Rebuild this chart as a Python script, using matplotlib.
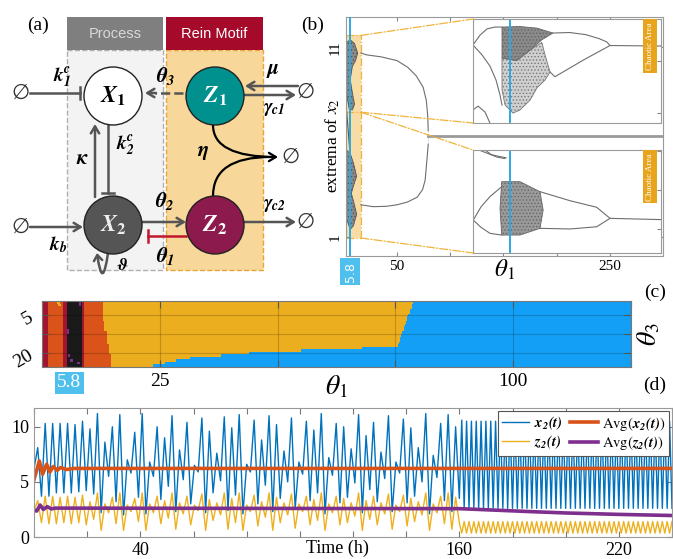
import matplotlib
matplotlib.use('Agg')
import matplotlib.pyplot as plt
import numpy as np
from matplotlib.colors import ListedColormap
from matplotlib.patches import Rectangle, Circle, FancyArrowPatch, Polygon, ConnectionPatch
import matplotlib.transforms as mtransforms

plt.rcParams['font.family'] = ['Liberation Serif', 'DejaVu Serif']
plt.rcParams['mathtext.fontset'] = 'stix'
plt.rcParams['hatch.linewidth'] = 0.6

# ---------------- data ----------------
# (b) bifurcation diagram, extrema of x2 vs theta1
loop_up_theta = [16, 21.7, 35, 50, 60, 68, 74.5, 77.5, 78.8, 79.3]
loop_up_x2 = [10.7, 10.6, 10.5, 10.3, 9.95, 9.5, 8.9, 8.2, 7.4, 6.6]
loop_lo_theta = [16, 27.4, 40, 50, 60, 68.9, 74, 76.4, 78.3, 79.3]
loop_lo_x2 = [2.7, 2.6, 2.62, 2.7, 2.85, 3.1, 3.5, 4.0, 5.2, 5.9]
steady_theta = [79.3, 300]
steady_x2 = [6.32, 6.32]
chaos_main_up_theta = [2.3, 6, 10, 13, 11, 8, 6, 8, 10, 8, 5, 2.3]
chaos_main_up_x2 = [11.25, 11.4, 11.2, 10.7, 10.3, 10.0, 9.3, 8.6, 8.0, 7.7, 7.75, 8.6]
chaos_main_lo_theta = [2.3, 6, 9, 12, 9, 7, 9, 12, 9, 6, 2.3]
chaos_main_lo_x2 = [5.6, 5.4, 4.9, 4.2, 3.7, 3.3, 2.9, 2.2, 1.6, 1.4, 2.0]
strand_theta = [2.5, 3.5, 4.5, 5.5]
strand_b = [7.7, 7.0, 6.3, 5.6]
box_theta = [2, 16]
box_x2 = [0.95, 7.58, 11.63]
theta_mark = 5.8

# upper inset
iu_dark_theta = [5.19, 6.55, 7.83, 9.04, 8.2, 7.3, 6.3, 5.19]
iu_dark_x2 = [11.29, 11.31, 11.25, 11.06, 10.8, 10.4, 10.0, 10.1]
iu_chaos_theta = [5.19, 6.3, 7.3, 8.2, 8.44, 8.82, 8.44, 7.83, 7.31, 6.55, 6.02, 5.42, 5.19]
iu_chaos_x2 = [10.1, 10.0, 10.4, 10.7, 10.22, 9.56, 9.25, 8.95, 8.48, 8.10, 7.98, 8.29, 8.87]
iu_br1_theta = [9.04, 10.3, 11.5, 12.5, 13.1, 13.35, 17.2]
iu_br1_x2 = [11.06, 11.08, 11.0, 10.85, 10.72, 10.58, 10.56]
iu_br2_theta = [8.82, 9.19, 11.33, 13.35]
iu_br2_x2 = [9.56, 9.38, 10.02, 10.58]
iu_left1_theta = [3.0, 3.53, 4.06, 4.66, 5.04, 5.19]
iu_left1_x2 = [10.6, 10.98, 11.22, 11.29, 11.29, 11.29]
iu_left2_theta = [3.0, 3.68, 4.28, 4.74, 5.04, 5.19]
iu_left2_x2 = [10.6, 10.22, 9.79, 9.25, 8.68, 8.29]
iu_left3_theta = [3.0, 3.38, 3.91, 4.28]
iu_left3_x2 = [8.1, 8.25, 8.02, 7.6]

# lower inset
il_chaos_theta = [5.17, 6.55, 8.06, 8.3, 8.06, 6.55, 5.17, 5.04, 5.17]
il_chaos_x2 = [5.52, 5.52, 4.88, 3.7, 2.53, 2.1, 2.1, 3.81, 5.52]
il_br1_theta = [8.06, 10.33, 12.34, 13.35, 17.2]
il_br1_x2 = [4.88, 4.30, 3.88, 3.17, 3.09]
il_br2_theta = [8.06, 10.33, 12.34, 13.35]
il_br2_x2 = [2.53, 2.49, 2.63, 3.17]
il_left1_theta = [3.02, 3.6, 4.28, 5.17]
il_left1_x2 = [3.06, 3.9, 4.56, 5.2]
il_left2_theta = [3.02, 3.6, 4.28, 5.17]
il_left2_x2 = [3.06, 2.6, 2.21, 2.1]
il_top1_theta = [3.6, 4.2, 4.8, 5.4]
il_top1_x2 = [7.5, 7.3, 7.1, 7.0]
il_top2_theta = [3.9, 4.4, 4.9, 5.5]
il_top2_x2 = [7.55, 7.25, 7.15, 7.05]

# (c) dynamical regimes over (theta1, theta3)
theta1_max = 125
theta3_rows = list(range(26))
yellow_start = [13.0, 13.0, 13.0, 13.0, 13.0, 13.0, 13.0, 13.0, 13.3, 13.3, 13.3, 13.3,
                13.8, 13.8, 13.8, 13.8, 13.8, 14.3, 14.3, 14.3, 14.3, 14.8, 14.8, 14.8, 14.8, 14.8]
blue_start = [78.8, 78.6, 78.4, 78.1, 77.9, 77.7, 77.6, 77.4, 77.2, 77.0, 76.8, 76.7, 76.5,
              76.3, 76.1, 76.0, 75.8, 75.6, 68.0, 55.0, 44.0, 38.0, 31.5, 28.5, 26.0, 23.5]
strip_edges = [0.3, 1.3, 4.5, 5.2, 8.4, 9.1]
strip_codes = [2, 3, 2, 3, 4, 3]
purple_theta1 = [5.4, 5.4, 5.6, 7.8, 7.6, 6.0, 7.9]
purple_theta3 = [11, 12, 21, 0, 24, 23, 1]
ybit_theta1 = [3.4, 3.6]
ybit_theta3 = [0, 1]
regime_colors = ['#139ff5', '#ebae1f', '#d9531a', '#a3152e', '#1a1a1a', '#7e2f8e']

# (d) time series (alternating extrema)
x2_peaks = [8.1, 10.3, 10.3, 10.3, 10.3, 10.2, 10.5, 9.8, 11.2, 8.6, 10.0, 11.1, 7.0, 9.5,
            11.2, 6.8, 10.0, 9.0, 11.0, 7.9, 10.4, 6.5, 10.8, 9.6, 7.6, 10.9, 9.9, 11.1, 6.6,
            10.6, 8.8, 11.0, 10.2, 7.8, 10.8, 6.8, 10.5, 9.7, 11.2, 7.2, 10.3, 10.0, 8.0, 11.1,
            9.2, 10.4, 7.7, 11.0, 6.8, 10.7, 9.9, 8.1, 11.2, 7.4, 10.3, 11.1, 10.0]
x2_troughs = [3.7, 3.7, 4.0, 4.0, 4.0, 4.1, 4.2, 3.9, 2.2, 5.5, 3.2, 2.0, 5.8, 3.6, 2.1, 5.5,
              3.4, 4.6, 2.3, 5.2, 3.0, 5.9, 2.2, 4.0, 5.1, 2.4, 3.8, 2.1, 5.9, 3.0, 4.7, 2.3,
              3.5, 5.0, 2.6, 5.7, 3.3, 4.0, 2.1, 5.6, 3.1, 3.6, 4.9, 2.2, 4.3, 3.2, 5.3, 2.3,
              5.8, 3.1, 3.7, 5.0, 2.1, 5.4, 3.3, 2.3, 3.5]
z2_peaks = [3.3, 3.7, 3.7, 3.6, 3.7, 3.6, 3.8, 3.2, 4.0, 3.0, 3.6, 4.0, 2.9, 3.5, 4.0, 3.0,
            3.7, 3.3, 4.0, 3.1, 3.7, 2.9, 3.9, 3.4, 3.1, 4.0, 3.5, 4.0, 2.9, 3.8, 3.2, 4.0,
            3.6, 3.1, 3.9, 3.0, 3.7, 3.4, 4.0, 3.0, 3.7, 3.5, 3.1, 4.0, 3.3, 3.7, 3.1, 3.9,
            2.9, 3.8, 3.5, 3.2, 4.0, 3.0, 3.7, 4.0, 3.6]
z2_troughs = [1.3, 1.2, 1.2, 1.3, 1.2, 1.3, 1.1, 1.6, 0.6, 2.2, 1.2, 0.6, 2.3, 1.4, 0.6, 2.2,
              1.2, 1.7, 0.7, 2.1, 1.1, 2.4, 0.6, 1.5, 2.0, 0.7, 1.3, 0.6, 2.3, 1.0, 1.8, 0.6,
              1.3, 2.0, 0.8, 2.3, 1.1, 1.5, 0.6, 2.2, 1.1, 1.3, 1.9, 0.6, 1.6, 1.1, 2.1, 0.7,
              2.3, 1.0, 1.4, 2.0, 0.6, 2.2, 1.2, 0.7, 1.3]
x2_late_peaks = [10.6, 10.5, 10.5, 10.5, 10.5, 10.5, 10.5, 10.5, 10.5, 10.5, 10.5, 10.5,
                 10.5, 10.5, 10.5, 10.5, 10.5, 10.5, 10.5, 10.5, 10.5, 10.5, 10.5, 10.5,
                 10.5, 10.5, 10.5, 10.5, 10.5, 10.5, 10.5, 10.5, 10.5, 10.5, 10.5, 10.5,
                 10.5, 10.5, 10.5, 10.5, 10.5, 10.5, 10.5, 10.5]
x2_late_troughs = [2.6, 2.6, 2.6, 2.6, 2.6, 2.6, 2.6, 2.6, 2.6, 2.6, 2.6, 2.6, 2.6, 2.6,
                   2.6, 2.6, 2.6, 2.6, 2.6, 2.6, 2.6, 2.6, 2.6, 2.6, 2.6, 2.6, 2.6, 2.6,
                   2.6, 2.6, 2.6, 2.6, 2.6, 2.6, 2.6, 2.6, 2.6, 2.6, 2.6, 2.6, 2.6, 2.6,
                   2.6, 2.6]
z2_late_peaks = [1.4, 1.4, 1.4, 1.4, 1.4, 1.4, 1.4, 1.4, 1.4, 1.4, 1.4, 1.4, 1.4, 1.4,
                 1.4, 1.4, 1.4, 1.4, 1.4, 1.4, 1.4, 1.4, 1.4, 1.4, 1.4, 1.4, 1.4, 1.4,
                 1.4, 1.4, 1.4, 1.4, 1.4, 1.4, 1.4, 1.4, 1.4, 1.4, 1.4, 1.4, 1.4, 1.4,
                 1.4, 1.4]
z2_late_troughs = [0.35, 0.35, 0.35, 0.35, 0.35, 0.35, 0.35, 0.35, 0.35, 0.35, 0.35, 0.35,
                   0.35, 0.35, 0.35, 0.35, 0.35, 0.35, 0.35, 0.35, 0.35, 0.35, 0.35, 0.35,
                   0.35, 0.35, 0.35, 0.35, 0.35, 0.35, 0.35, 0.35, 0.35, 0.35, 0.35, 0.35,
                   0.35, 0.35, 0.35, 0.35, 0.35, 0.35, 0.35, 0.35]
avg_x2_t = [0, 2.0, 3.25, 4.75, 6.0, 7.25, 8.75, 10.0, 12.25, 15, 240]
avg_x2 = [5.2, 6.9, 5.7, 6.6, 5.9, 6.4, 6.05, 6.3, 6.12, 6.22, 6.22]
avg_z2_t = [0, 1.0, 2.3, 3.5, 5.0, 6.5, 8.0, 160, 175, 187, 200, 220, 240]
avg_z2 = [2.45, 2.35, 2.9, 2.5, 2.75, 2.55, 2.62, 2.57, 2.42, 2.3, 2.18, 2.05, 1.95]


def interleave(first, peaks, troughs):
    seq = [first]
    for p, q in zip(peaks, troughs):
        seq += [p, q]
    return seq


# ---------------- figure ----------------
W, H = 673, 559
fig = plt.figure(figsize=(W / 100, H / 100), dpi=100)


def px_box(x0, y0, x1, y1):
    return [x0 / W, 1 - y1 / H, (x1 - x0) / W, (y1 - y0) / H]


# ---- (a) schematic, drawn in pixel coordinates ----
axa = fig.add_axes([0, 0, 1, 1])
axa.set_xlim(0, W)
axa.set_ylim(H, 0)
axa.axis('off')

grey = '#555555'
axa.add_patch(Rectangle((67, 50), 96, 220, fc='#f3f3f3', ec='#b0b0b0', ls='--', lw=1))
axa.add_patch(Rectangle((166, 50), 97, 220, fc='#f7d89a', ec='#eaa53a', ls='--', lw=1))
axa.add_patch(Rectangle((67, 17), 96, 33, fc='#7f7f7f', ec='none'))
axa.add_patch(Rectangle((166, 17), 97, 33, fc='#a50a2a', ec='none'))
axa.text(115, 34, 'Process', ha='center', va='center', color='#d9d9d9', fontsize=10.5,
         family='Liberation Sans')
axa.text(214, 34, 'Rein Motif', ha='center', va='center', color='white', fontsize=10.5,
         family='Liberation Sans')

nodes = {'X1': ((113, 96), 'white', 'black'), 'X2': ((113, 225), '#555555', '#eeeeee'),
         'Z1': ((215, 96), '#00908e', 'white'), 'Z2': ((215, 225), '#8c1a4c', 'white')}
for name, (c, fc, tc) in nodes.items():
    axa.add_patch(Circle(c, 29, fc=fc, ec='#222222', lw=1, zorder=3))
    axa.text(c[0], c[1], r'$\mathbfit{%s}_{\mathbf{%s}}$' % (name[0], name[1]), ha='center',
             va='center', color=tc, fontsize=17, zorder=4)


def arrow(p0, p1, color=grey, lw=1.8):
    axa.add_patch(FancyArrowPatch(p0, p1, arrowstyle='->,head_length=5,head_width=3',
                                  color=color, lw=lw, shrinkA=0, shrinkB=0, zorder=2))


def tbar(p0, p1, color=grey, lw=1.8, half=6):
    axa.plot([p0[0], p1[0]], [p0[1], p1[1]], color=color, lw=lw, zorder=2)
    dx, dy = p1[0] - p0[0], p1[1] - p0[1]
    n = np.hypot(dx, dy)
    nx, ny = -dy / n * half, dx / n * half
    axa.plot([p1[0] - nx, p1[0] + nx], [p1[1] - ny, p1[1] + ny], color=color, lw=lw, zorder=2)


def lab(x, y, s, size=14, color='black'):
    axa.text(x, y, s, ha='center', va='center', fontsize=size, color=color)


def empty(x, y):
    axa.text(x, y, '\u2205', ha='center', va='center', fontsize=15, family='DejaVu Sans',
             color='#333333')


empty(20, 93)
tbar((30, 93), (80, 93))
lab(62, 77, r'$\mathbfit{k_1^c}$')
axa.plot([183, 155], [93, 93], color=grey, lw=1.8, ls='--', zorder=2)
arrow((156, 93), (145, 93))
lab(166, 76, r'$\mathbfit{\theta_3}$', 15)
empty(305, 92)
arrow((298, 86), (245, 86))
arrow((245, 95), (296, 95))
lab(273, 70, r'$\mathbfit{\mu}$', 15)
lab(274, 110, r'$\mathbfit{\gamma_{c1}}$', 14)
arrow((95, 197), (95, 124))
lab(82, 160, r'$\mathbfit{\kappa}$', 15)
tbar((108, 125), (108, 193))
lab(125, 145, r'$\mathbfit{k_2^c}$')
empty(20, 227)
arrow((30, 227), (83, 227))
lab(58, 245, r'$\mathbfit{k_b}$')
axa.add_patch(FancyArrowPatch((108, 253), (97, 253), connectionstyle='arc3,rad=-3.6',
                              arrowstyle='->,head_length=4,head_width=3', color=grey, lw=1.8,
                              shrinkA=0, shrinkB=0, zorder=2))
lab(122, 266, r'$\mathbfit{\vartheta}$', 13)
arrow((142, 222), (186, 222))
lab(165, 201, r'$\mathbfit{\theta_2}$', 15)
tbar((186, 236), (148, 236), color='#c0182f')
lab(165, 256, r'$\mathbfit{\theta_1}$', 15)
axa.add_patch(FancyArrowPatch((213, 125), (278, 157), connectionstyle='angle3,angleA=-90,angleB=0',
                              arrowstyle='->,head_length=5,head_width=3', color='black', lw=1.6,
                              shrinkA=0, shrinkB=0, zorder=2))
axa.add_patch(FancyArrowPatch((213, 196), (270, 157), connectionstyle='angle3,angleA=90,angleB=0',
                              arrowstyle='-', color='black', lw=1.6, shrinkA=0, shrinkB=0, zorder=2))
empty(290, 157)
lab(203, 153, r'$\mathbfit{\eta}$', 15)
arrow((244, 222), (296, 222))
lab(274, 205, r'$\mathbfit{\gamma_{c2}}$', 14)
empty(305, 222)

fig.text(38 / W, 1 - 25 / H, '(a)', ha='center', va='center', fontsize=14)
fig.text(313 / W, 1 - 25 / H, '(b)', ha='center', va='center', fontsize=14)
fig.text(655 / W, 1 - 292 / H, '(c)', ha='center', va='center', fontsize=14)
fig.text(655 / W, 1 - 385 / H, '(d)', ha='center', va='center', fontsize=14)

# ---- (b) ----
line_c = '#6e6e6e'
cyan = '#2ea9e0'
orange_box = '#f0b43c'
axb = fig.add_axes(px_box(346, 17, 663, 256))
axb.set_xlim(2, 300)
axb.set_ylim(0, 12.6)
axb.add_patch(Rectangle((box_theta[0], box_x2[0]), box_theta[1] - box_theta[0],
                        box_x2[2] - box_x2[0], fc='#f7dca6', ec='none', zorder=0))
for yv in box_x2:
    axb.plot(box_theta, [yv, yv], color=orange_box, lw=0.9, ls='-.', zorder=1)
axb.plot([box_theta[1], box_theta[1]], [box_x2[0], box_x2[2]], color=orange_box, lw=0.9, ls='-.')
for th, xv in [(chaos_main_up_theta, chaos_main_up_x2), (chaos_main_lo_theta, chaos_main_lo_x2)]:
    axb.add_patch(Polygon(np.column_stack([th, xv]), closed=True, fc='#8a8a8a', ec='#555555',
                          lw=0.6, hatch='.....', zorder=2))
axb.plot(strand_theta, strand_b, color='#555555', lw=0.8)
axb.plot(loop_up_theta, loop_up_x2, color=line_c, lw=0.8)
axb.plot(loop_lo_theta, loop_lo_x2, color=line_c, lw=0.8)
axb.plot([loop_up_theta[-1], loop_lo_theta[-1]], [loop_up_x2[-1], loop_lo_x2[-1]], color='#bbbbbb',
         lw=0.6, ls=':')
axb.plot(steady_theta, steady_x2, color='#9a9a9a', lw=2.0)
axb.axvline(theta_mark, color=cyan, lw=1.4, zorder=5)
axb.set_xticks([50, 100, 150, 200, 250])
axb.set_xticklabels(['50', '', '', '', '250'], fontsize=11)
axb.set_yticks([1, 11])
axb.set_yticklabels(['1', '11'], fontsize=11, rotation=90, va='center')
axb.tick_params(direction='in', top=True, right=True, length=3, color='#888888', pad=3)
for s in axb.spines.values():
    s.set_color('#9a9a9a')
axb.set_xlabel(r'$\theta_1$', fontsize=18)
axb.xaxis.set_label_coords(0.5, -0.06)
axb.xaxis.label.set_va('center')
axb.text(-0.041, 0.46, r'extrema of $x_2$', transform=axb.transAxes, rotation=90,
         ha='center', va='center', fontsize=12.5)
tr = mtransforms.blended_transform_factory(axb.transData, axb.transAxes)
axb.text(theta_mark, -0.025, '5.8', transform=tr, rotation=90, ha='center', va='top',
         color='white', fontsize=9, family='DejaVu Sans',
         bbox=dict(fc='#4fc0ee', ec='none', pad=2.5))

ins_up = fig.add_axes(px_box(473, 19, 661, 123))
ins_lo = fig.add_axes(px_box(473, 150, 661, 253))
ins_up.set_ylim(7.6, 11.6)
ins_lo.set_ylim(0.95, 7.55)
ins_up.add_patch(Polygon(np.column_stack([iu_chaos_theta, iu_chaos_x2]), closed=True,
                         fc='#d0d0d0', ec='#777777', lw=0.6, hatch='.....'))
ins_up.add_patch(Polygon(np.column_stack([iu_dark_theta, iu_dark_x2]), closed=True,
                         fc='#8a8a8a', ec='#666666', lw=0.6, hatch='.....'))
for th, xv in [(iu_br1_theta, iu_br1_x2), (iu_br2_theta, iu_br2_x2), (iu_left1_theta, iu_left1_x2),
               (iu_left2_theta, iu_left2_x2), (iu_left3_theta, iu_left3_x2)]:
    ins_up.plot(th, xv, color=line_c, lw=0.8)
ins_lo.add_patch(Polygon(np.column_stack([il_chaos_theta, il_chaos_x2]), closed=True,
                         fc='#9a9a9a', ec='#666666', lw=0.6, hatch='.....'))
for th, xv in [(il_br1_theta, il_br1_x2), (il_br2_theta, il_br2_x2), (il_left1_theta, il_left1_x2),
               (il_left2_theta, il_left2_x2), (il_top1_theta, il_top1_x2), (il_top2_theta, il_top2_x2)]:
    ins_lo.plot(th, xv, color=line_c, lw=0.8)
for ins in (ins_up, ins_lo):
    ins.set_xlim(3, 17.2)
    ins.axvline(theta_mark, color=cyan, lw=1.4)
    ins.set_xticks([])
    ins.yaxis.tick_right()
    ins.tick_params(axis='y', direction='in', length=3, labelright=False, color='#888888')
    for s in ins.spines.values():
        s.set_color('#9a9a9a')
    ins.text(0.94, 0.74, 'Chaotic Area', transform=ins.transAxes, rotation=90, ha='center',
             va='center', color='white', fontsize=6.5, bbox=dict(fc='#e8a41c', ec='none', pad=2))

for (yb, ins, fy) in [(box_x2[2], ins_up, 1), (box_x2[1], ins_up, 0), (box_x2[1], ins_lo, 1),
                      (box_x2[0], ins_lo, 0)]:
    cp = ConnectionPatch(xyA=(box_theta[1], yb), coordsA=axb.transData, xyB=(0, fy),
                         coordsB=ins.transAxes, color=orange_box, lw=0.9, ls='-.')
    fig.add_artist(cp)

# ---- (c) ----
d = 0.25
centers = np.arange(0, theta1_max, d) + d / 2
grid = np.ones((len(theta3_rows), len(centers)), dtype=int)
for r in theta3_rows:
    row = grid[r]
    row[centers >= blue_start[r]] = 0
    row[centers < yellow_start[r]] = 2
    lo = 0
    for edge, code in zip(strip_edges, strip_codes):
        row[(centers >= lo) & (centers < edge)] = code
        lo = edge
for t1, t3 in zip(purple_theta1, purple_theta3):
    i = int(t1 / d)
    grid[t3, i:i + 2] = 5
for t1, t3 in zip(ybit_theta1, ybit_theta3):
    i = int(t1 / d)
    grid[t3, i:i + 2] = 1

axc = fig.add_axes(px_box(42, 301, 631, 367))
axc.imshow(grid, cmap=ListedColormap(regime_colors), vmin=-0.5, vmax=5.5, aspect='auto',
           interpolation='nearest', extent=[0, theta1_max, 25.5, -0.5])
axc.set_xlim(0, theta1_max)
axc.set_ylim(25.5, -0.5)
axc.set_xticks([0, 25, 50, 75, 100, 125])
axc.set_xticklabels(['', '25', '', '', '100', ''], fontsize=14)
axc.set_yticks([5, 12.5, 20])
axc.set_yticklabels(['5', '', '20'], fontsize=14, rotation=30)
axc.tick_params(direction='in', top=True, right=True, length=5, color='#555555', pad=4)
axc.grid(True, color='black', alpha=0.18, lw=0.8)
for s in axc.spines.values():
    s.set_color('#777777')
axc.set_xlabel(r'$\theta_1$', fontsize=20)
axc.xaxis.set_label_coords(0.5, -0.3)
axc.xaxis.label.set_va('center')
axc.text(1.03, 0.5, r'$\theta_3$', transform=axc.transAxes, rotation=90, ha='center',
         va='center', fontsize=20)
tr = mtransforms.blended_transform_factory(axc.transData, axc.transAxes)
axc.text(theta_mark, -0.11, '5.8', transform=tr, ha='center', va='top', color='white',
         fontsize=14, bbox=dict(fc='#4fc0ee', ec='none', pad=2))

# ---- (d) ----
x2_early = interleave(6.2, x2_peaks, x2_troughs)
z2_early = interleave(2.4, z2_peaks, z2_troughs)
x2_late = interleave(x2_early[-1], x2_late_peaks, x2_late_troughs)
z2_late = interleave(z2_early[-1], z2_late_troughs, z2_late_peaks)
t_early = np.linspace(0, 160, len(x2_early))
tz_early = np.linspace(0, 160, len(z2_early))
t_late = np.linspace(160, 240, len(x2_late))
tz_late = np.linspace(160, 240, len(z2_late))

axd = fig.add_axes(px_box(34, 408, 672, 537))
l1, = axd.plot(np.concatenate([t_early, t_late]), x2_early + x2_late, color='#0072bd', lw=1.0)
l2, = axd.plot(np.concatenate([tz_early, tz_late]), z2_early + z2_late, color='#edb120', lw=1.0)
l3, = axd.plot(avg_x2_t, avg_x2, color='#d95319', lw=2.6)
l4, = axd.plot(avg_z2_t, avg_z2, color='#7e2f8e', lw=2.6)
axd.set_xlim(0, 240)
axd.set_ylim(0, 11.7)
axd.set_xticks(list(range(0, 241, 20)))
axd.set_xticklabels(['40' if v == 40 else '160' if v == 160 else '220' if v == 220 else ''
                     for v in range(0, 241, 20)], fontsize=13)
axd.set_yticks([0, 5, 10])
axd.set_yticklabels(['0', '5', '10'], fontsize=13)
axd.tick_params(direction='in', top=True, right=True, length=4, color='#777777')
for s in axd.spines.values():
    s.set_color('#999999')
axd.set_xlabel('Time (h)', fontsize=13)
axd.xaxis.set_label_coords(0.475, -0.085)
axd.xaxis.label.set_va('center')
leg = axd.legend([l1, l2, l3, l4],
                 [r'$\mathbfit{x_2(t)}$', r'$\mathbfit{z_2(t)}$', r'$\mathrm{Avg}(\mathbfit{x_2(t)})$',
                  r'$\mathrm{Avg}(\mathbfit{z_2(t)})$'],
                 ncol=2, loc='upper right', fontsize=10.5, fancybox=False, framealpha=1,
                 edgecolor='#555555', handlelength=1.9, columnspacing=0.5, handletextpad=0.3,
                 borderpad=0.25, labelspacing=0.1, borderaxespad=0.2)
leg.get_frame().set_linewidth(0.8)

fig.savefig('out.png', dpi=100)
